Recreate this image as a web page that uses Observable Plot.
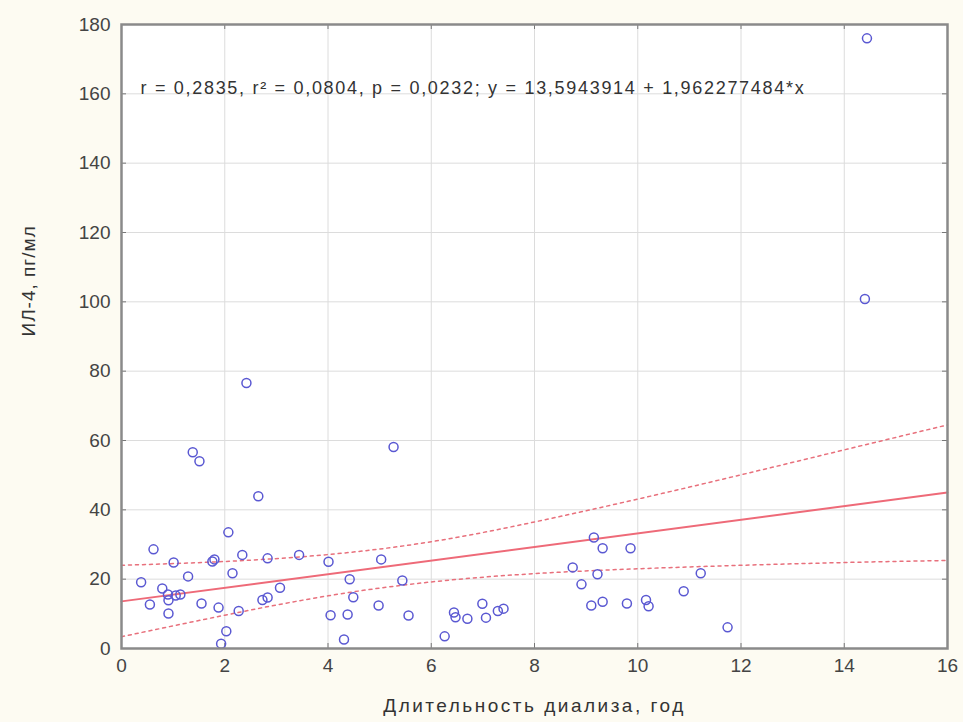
<!DOCTYPE html>
<html><head><meta charset="utf-8">
<script src="https://cdn.jsdelivr.net/npm/d3@7"></script>
<script src="https://cdn.jsdelivr.net/npm/@observablehq/plot@0.6"></script>
<style>
html,body{margin:0;padding:0;background:#fdfbf2;}
#chart{width:963px;height:722px;}
.ann text{letter-spacing:1.7px;}
.xlab text{letter-spacing:2.5px;}
.ylab text{letter-spacing:1px;}
</style></head><body><div id="chart"></div>
<script>
// Длительность диализа, год
const duration = [0.38,0.55,0.62,0.79,0.90,0.91,0.91,1.01,1.05,1.14,1.29,1.38,1.51,1.55,1.76,1.80,1.88,1.93,2.03,2.07,2.15,2.27,2.34,2.42,2.65,2.73,2.83,2.83,3.07,3.44,4.01,4.05,4.31,4.38,4.42,4.49,4.98,5.03,5.27,5.44,5.56,6.26,6.44,6.47,6.70,6.99,7.06,7.29,7.40,8.74,8.91,9.10,9.15,9.22,9.32,9.32,9.79,9.86,10.16,10.21,10.89,11.22,11.74,14.40,14.44];
// ИЛ-4, пг/мл
const il4 = [19.1,12.7,28.6,17.3,15.6,13.9,10.1,24.8,15.3,15.6,20.8,56.6,54.0,13.0,25.1,25.7,11.8,1.4,5.0,33.5,21.7,10.8,27.0,76.6,43.9,14.0,14.7,26.0,17.5,27.0,25.0,9.6,2.6,9.8,20.0,14.8,12.4,25.7,58.1,19.6,9.5,3.5,10.4,9.0,8.6,12.9,8.9,10.8,11.5,23.4,18.5,12.4,32.0,21.4,28.9,13.5,13.0,28.9,14.0,12.2,16.5,21.7,6.1,100.8,176.0];
const xTicks = [0,2,4,6,8,10,12,14,16];
const yTicks = [0,20,40,60,80,100,120,140,160,180];
const intercept = 13.5943914;
const slope = 1.962277484;
// 95% confidence bounds
const ciX = [0,2,4,6,8,10,12,14,16];
const ciUpper = [24.0,25.1,27.1,30.8,36.5,43.1,50.1,57.3,64.5];
const ciLower = [3.4,9.6,15.2,19.2,21.6,23.0,24.0,24.8,25.4];
const annotation = "r = 0,2835, r² = 0,0804, p = 0,0232; y = 13,5943914 + 1,962277484*x";
const xLabel = "Длительность диализа, год";
const yLabel = "ИЛ-4, пг/мл";

const pts = duration.map((d,i)=>({x:d, y:il4[i]}));
const ci = ciX.map((x,i)=>({x, upper:ciUpper[i], lower:ciLower[i]}));
const xDomain = [xTicks[0], xTicks[xTicks.length-1]];
const reg = xDomain.map(x=>({x, y: intercept + slope*x}));

const font = "'Liberation Sans', Arial, sans-serif";
const chart = Plot.plot({
  width:963, height:722,
  marginLeft:121, marginRight:16, marginTop:24, marginBottom:74,
  style:{background:"transparent", fontFamily:font, fontSize:"14px", color:"#3a3a3a", overflow:"visible"},
  x:{domain:xDomain, ticks:xTicks, label:null},
  y:{domain:[yTicks[0], yTicks[yTicks.length-1]], ticks:yTicks, label:null},
  marks:[
    Plot.frame({fill:"white", stroke:"none"}),
    Plot.gridX(xTicks.slice(1,-1), {stroke:"#dcdcdc", strokeOpacity:1, strokeWidth:1}),
    Plot.gridY(yTicks.slice(1,-1), {stroke:"#dcdcdc", strokeOpacity:1, strokeWidth:1}),
    Plot.axisX(xTicks, {tickSize:0, tickPadding:10, fontSize:19, fill:"#444"}),
    Plot.axisY(yTicks, {tickSize:0, tickPadding:11, fontSize:19, fill:"#444"}),
    Plot.tickY(yTicks, {y:d=>d, insetRight:821, stroke:"#777"}),
    Plot.tickY(yTicks, {y:d=>d, insetLeft:821, stroke:"#777"}),
    Plot.tickX(xTicks, {x:d=>d, insetTop:619, stroke:"#777"}),
    Plot.tickX(xTicks, {x:d=>d, insetBottom:619, stroke:"#777"}),
    Plot.line(ci, {x:"x", y:"upper", stroke:"#e8707c", strokeWidth:1.5, strokeDasharray:"3,4", curve:"natural"}),
    Plot.line(ci, {x:"x", y:"lower", stroke:"#e8707c", strokeWidth:1.5, strokeDasharray:"3,4", curve:"natural"}),
    Plot.line(reg, {x:"x", y:"y", stroke:"#ee6a78", strokeWidth:2}),
    Plot.dot(pts, {x:"x", y:"y", r:4.5, stroke:"#5a58d2", strokeWidth:1.5, fill:"none"}),
    Plot.text([annotation], {className:"ann", frameAnchor:"top-left", dx:19, dy:64, textAnchor:"start", lineAnchor:"middle", fontSize:18, fill:"#333"}),
    Plot.text([xLabel], {className:"xlab", frameAnchor:"bottom", dy:57, lineAnchor:"middle", fontSize:19, fill:"#333"}),
    Plot.text([yLabel], {className:"ylab", frameAnchor:"left", dx:-93, rotate:-90, lineAnchor:"middle", fontSize:19, fill:"#333"}),
    Plot.frame({stroke:"#8a8a8a", strokeWidth:2.5})
  ]
});
document.getElementById("chart").appendChild(chart);
</script>
</body></html>
